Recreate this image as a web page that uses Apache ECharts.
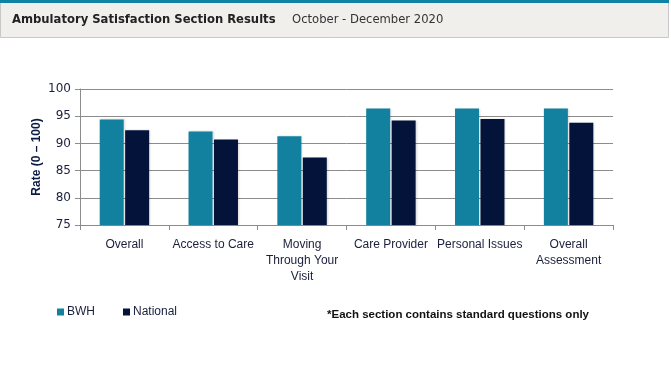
<!DOCTYPE html>
<html>
<head>
<meta charset="utf-8">
<script src="https://cdn.jsdelivr.net/npm/echarts@6/dist/echarts.min.js"></script>
<style>
html,body{margin:0;padding:0;background:#fff;}
#chart{width:671px;height:366px;}
</style>
</head>
<body>
<div id="chart"></div>
<script>
const categories = ['Overall', 'Access to Care', 'Moving\nThrough Your\nVisit', 'Care Provider', 'Personal Issues', 'Overall\nAssessment'];
const bwhValues = [94.4, 92.2, 91.3, 96.4, 96.4, 96.4];
const nationalValues = [92.4, 90.7, 87.4, 94.2, 94.5, 93.8];
const yTicks = [75, 80, 85, 90, 95, 100];
const titleText = 'Ambulatory Satisfaction Section Results';
const periodText = 'October - December 2020';
const noteText = '*Each section contains standard questions only';
const yAxisTitle = 'Rate (0 \u2013 100)';

const chart = echarts.init(document.getElementById('chart'), null, {renderer: 'canvas'});
const labelFont = '"Liberation Sans", Arial, sans-serif';
const textColor = '#1a1f3c';
chart.setOption({
  animation: false,
  grid: {left: 80, right: 58, top: 89, bottom: 141},
  graphic: [
    {type: 'rect', shape: {x: 0.5, y: 0.5, width: 668, height: 37}, style: {fill: '#f0efec', stroke: '#c8c8c8', lineWidth: 1}},
    {type: 'rect', shape: {x: 0, y: 0, width: 669, height: 3}, style: {fill: '#0e83a4'}},
    {type: 'text', left: 12, top: 14, style: {text: titleText, font: 'bold 11.6px "DejaVu Sans", Verdana, sans-serif', fill: '#222'}},
    {type: 'text', left: 292, top: 14, style: {text: periodText, font: '11.6px "DejaVu Sans", Verdana, sans-serif', fill: '#333'}},
    {type: 'text', left: 327, top: 309, style: {text: noteText, font: 'bold 11.5px ' + labelFont, fill: '#111'}},
    {type: 'text', x: 36.5, y: 157, rotation: Math.PI / 2,
      style: {text: yAxisTitle, font: 'bold 12px ' + labelFont, fill: '#0d1a45', align: 'center', verticalAlign: 'middle'}}
  ],
  legend: {
    left: 52, top: 301, itemWidth: 7, itemHeight: 7, itemGap: 28, icon: 'rect',
    textStyle: {fontFamily: labelFont, fontSize: 12, color: textColor, padding: [0, 0, 0, -2]},
    data: ['BWH', 'National']
  },
  xAxis: {
    type: 'category', data: categories,
    axisLine: {lineStyle: {color: '#8c8c8c'}},
    axisTick: {show: true, length: 5, lineStyle: {color: '#8c8c8c'}},
    axisLabel: {interval: 0, fontFamily: labelFont, fontSize: 12, color: textColor, lineHeight: 16, margin: 12}
  },
  yAxis: {
    type: 'value', min: 75, max: 100, interval: 5,
    axisLine: {show: true, lineStyle: {color: '#8c8c8c'}},
    axisTick: {show: true, length: 5, inside: false, lineStyle: {color: '#8c8c8c'}},
    axisLabel: {fontFamily: '"DejaVu Sans", Verdana, sans-serif', fontSize: 12, color: textColor, margin: 9,
      formatter: v => yTicks.includes(v) ? String(v) : ''},
    splitLine: {lineStyle: {color: '#8c8c8c'}}
  },
  series: [
    {name: 'BWH', type: 'bar', data: bwhValues, barWidth: 24, barGap: '6%',
      itemStyle: {color: '#12809f', shadowColor: 'rgba(0,0,0,0.15)', shadowBlur: 2, shadowOffsetX: 1}},
    {name: 'National', type: 'bar', data: nationalValues, barWidth: 24,
      itemStyle: {color: '#03133a', shadowColor: 'rgba(0,0,0,0.15)', shadowBlur: 2, shadowOffsetX: 1}}
  ]
});
</script>
</body>
</html>
